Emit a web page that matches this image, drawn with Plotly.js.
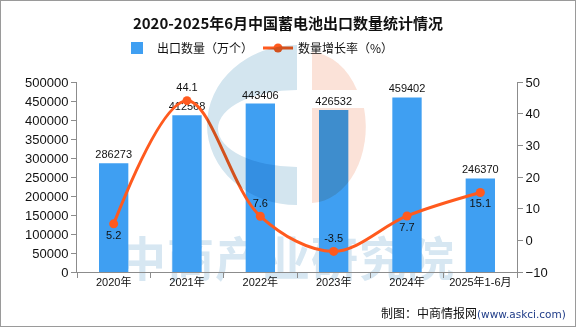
<!DOCTYPE html>
<html>
<head>
<meta charset="utf-8">
<script src="https://cdn.plot.ly/plotly-3.0.1.min.js"></script>
<style>
html,body{margin:0;padding:0;background:#fff;}
#wrap{position:relative;width:576px;height:327px;overflow:hidden;}
#wm{position:absolute;left:0;top:0;width:576px;height:327px;z-index:0;}
#chart{position:absolute;left:0;top:0;width:576px;height:327px;z-index:1;}
#logo{position:absolute;left:0;top:0;width:576px;height:327px;z-index:2;mix-blend-mode:multiply;pointer-events:none;}
#border{position:absolute;left:0;top:0;width:576px;height:327px;box-sizing:border-box;border:1px solid #9a9a9a;z-index:3;pointer-events:none;}
#wmtext{position:absolute;left:119px;top:226px;font-family:"Noto Sans CJK SC";font-weight:bold;font-size:47px;color:#d7e7f2;line-height:60px;white-space:nowrap;letter-spacing:1px;}
</style>
</head>
<body>
<div id="wrap">
  <div id="wm"><div id="wmtext">中商产业研究院</div></div>
  <div id="chart"></div>
  <svg id="logo" width="576" height="327">
    <path d="M297,45 A90,80 0 0 0 297,205 L297,167 A79,38.5 0 0 1 297,90 Z" fill="#d3e5ef"/>
    <path d="M312,52 A56,76 0 0 1 357,90 L312,90 Z" fill="#fbe2d8"/>
    <path d="M312,108 L364,108 A56,76 0 0 1 312,203 Z" fill="#fbe2d8"/>
  </svg>
  <div id="border"></div>
</div>
<script>
var categories = ['2020年','2021年','2022年','2023年','2024年','2025年1-6月'];
var exportQty = [286273, 412568, 443406, 426532, 459402, 246370];
var growthRate = [5.2, 44.1, 7.6, -3.5, 7.7, 15.1];
var growthLabelPos = ['bottom center','top center','top center','top center','bottom center','bottom center'];
var leftTicks = [0,50000,100000,150000,200000,250000,300000,350000,400000,450000,500000];
var rightTicks = [-10,0,10,20,30,40,50];

var font = '"Liberation Sans","Noto Sans CJK SC",sans-serif';

var traces = [
  {
    type:'bar', name:'出口数量（万个）', x:categories, y:exportQty,
    marker:{color:'#3f9ff2'}, width:0.4,
    text:exportQty.map(String), textposition:'outside', constraintext:'none',
    textfont:{family:font,size:11,color:'#111'}, cliponaxis:false,
    hoverinfo:'x+y'
  },
  {
    type:'scatter', mode:'lines+markers+text', name:'数量增长率（%）',
    x:categories, y:growthRate, yaxis:'y2',
    line:{color:'#ff5a1e',width:3,shape:'spline',smoothing:1},
    marker:{color:'#ff5a1e',size:9},
    text:growthRate.map(String), textposition:growthLabelPos,
    textfont:{family:font,size:11,color:'#111'}, cliponaxis:false
  }
];

var layout = {
  width:576, height:327,
  margin:{l:77,r:59,t:82,b:55},
  paper_bgcolor:'rgba(0,0,0,0)', plot_bgcolor:'rgba(0,0,0,0)',
  font:{family:font,size:12,color:'#111'},
  title:{text:'<b>2020-2025年6月中国蓄电池出口数量统计情况</b>', x:0.5, xanchor:'center', y:0.928, yanchor:'middle',
    font:{family:'"Noto Sans CJK SC",sans-serif',size:15,color:'#111'}},
  showlegend:true,
  legend:{orientation:'h', x:258/576, xref:'container', xanchor:'center', y:(327-48)/327, yanchor:'middle', yref:'container',
    font:{family:'"Noto Sans CJK SC",sans-serif',size:12,color:'#111'}, itemwidth:30, traceorder:'normal'},
  xaxis:{type:'category', range:[-0.5,5.5], showline:true, linecolor:'#8c8c8c', linewidth:1,
    ticks:'outside', tickson:'boundaries', ticklen:5, tickcolor:'#8c8c8c',
    tickfont:{family:font,size:11,color:'#111'}, showgrid:false, zeroline:false, fixedrange:true},
  yaxis:{range:[0,500000], tickvals:leftTicks, ticktext:leftTicks.map(String), showline:true, linecolor:'#8c8c8c',
    ticks:'outside', ticklen:5, tickcolor:'#8c8c8c', showgrid:false, zeroline:false,
    tickfont:{family:font,size:13,color:'#111'}},
  yaxis2:{range:[-10,50], tickvals:rightTicks, ticktext:rightTicks.map(function(v){return v<0?'−'+Math.abs(v):String(v);}),
    overlaying:'y', side:'right', showline:true, linecolor:'#8c8c8c',
    ticks:'outside', ticklen:5, tickcolor:'#8c8c8c', showgrid:false, zeroline:false,
    tickfont:{family:font,size:13,color:'#111'}},
  annotations:[
    {xref:'paper', yref:'paper', x:(568-77)/440, y:-(312-272)/190, xanchor:'right', yanchor:'middle', showarrow:false,
     text:'制图：中商情报网<span style="color:#1f3c88;font-family:DejaVu Sans;font-size:10.5px">(www.askci.com)</span>',
     font:{family:'"Noto Sans CJK SC",sans-serif',size:12,color:'#111'}}
  ]
};

Plotly.newPlot('chart', traces, layout, {displayModeBar:false, staticPlot:true});
</script>
</body>
</html>
